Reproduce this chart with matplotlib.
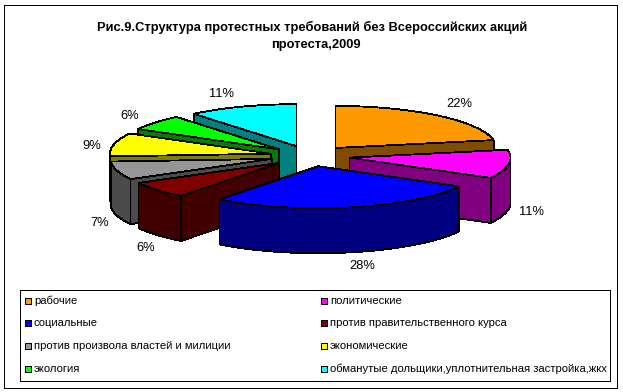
"""Exploded 3D pie: structure of protest demands, 2009."""

import matplotlib
matplotlib.use('Agg')
import matplotlib.pyplot as plt
import numpy as np
from matplotlib.patches import Polygon, Rectangle

plt.rcParams['font.family'] = ['Liberation Sans', 'DejaVu Sans']

title = 'Рис.9.Структура протестных требований без Всероссийских акций\nпротеста,2009'
categories = ['рабочие', 'политические', 'социальные', 'против правительственного курса',
              'против произвола властей и милиции', 'экономические', 'экология',
              'обманутые дольщики,уплотнительная застройка,жкх']
values = [22, 11, 27.5, 6.5, 7, 9, 6, 11]
value_labels = ['22%', '11%', '28%', '6%', '7%', '9%', '6%', '11%']

top_colors = ['#FF9900', '#FF00FF', '#0000FF', '#800000', '#969696', '#FFFF00', '#00FF00', '#00FFFF']
side_colors = ['#804D00', '#800080', '#000080', '#400000', '#4B4B4B', '#808000', '#008000', '#008080']

# pie geometry, in pixels of the 623x392 canvas
CX, CY = 310, 156
RX, RY = 161, 42
DEPTH = 45
EXPLODE = 40
LABEL_XY = [(459, 104), (531, 212), (362, 266), (146, 248), (100, 223), (92, 146), (130, 116), (222, 94)]
DRAW_ORDER = [0, 7, 6, 5, 4, 3, 1, 2]
LINE = dict(edgecolor='black', linewidth=0.6, antialiased=False)

W, H = 623, 392
fig = plt.figure(figsize=(W / 100, H / 100), dpi=100)
ax = fig.add_axes([0, 0, 1, 1])
ax.set_xlim(0, W)
ax.set_ylim(H, 0)
ax.axis('off')


def point(cx, cy, theta):
    """Clockwise angle from 12 o'clock to a point on the squashed circle."""
    return cx + RX * np.sin(theta), cy - RY * np.cos(theta)


def draw_slice(i, a1, a2):
    mid = (a1 + a2) / 2
    cx = CX + EXPLODE * np.sin(mid)
    cy = CY - EXPLODE * RY / RX * np.cos(mid)

    # radial walls, the one turned away from the viewer first
    walls = [(a1, -np.cos(a1 - np.pi / 2)), (a2, -np.cos(a2 + np.pi / 2))]
    walls.sort(key=lambda w: w[1])
    for a, _ in walls:
        px, py = point(cx, cy, a)
        ax.add_patch(Polygon([(cx, cy), (px, py), (px, py + DEPTH), (cx, cy + DEPTH)],
                             facecolor=side_colors[i], **LINE))

    # outer rim, only the front half of the ellipse shows
    lo, hi = max(a1, np.pi / 2), min(a2, 3 * np.pi / 2)
    if hi > lo:
        t = np.linspace(lo, hi, 60)
        xs, ys = point(cx, cy, t)
        rim = list(zip(xs, ys)) + list(zip(xs[::-1], ys[::-1] + DEPTH))
        ax.add_patch(Polygon(rim, facecolor=side_colors[i], **LINE))

    t = np.linspace(a1, a2, 60)
    xs, ys = point(cx, cy, t)
    ax.add_patch(Polygon([(cx, cy)] + list(zip(xs, ys)), facecolor=top_colors[i], **LINE))


angles = np.concatenate([[0], np.cumsum(values)]) / np.sum(values) * 2 * np.pi

# outer frame
ax.add_patch(Rectangle((4, 5), 612.5, 383, facecolor='white', **LINE))

ax.text(312, 27.5, title.split('\n')[0], ha='center', va='center', fontsize=9.3, fontweight='bold')
ax.text(316, 44.5, title.split('\n')[1], ha='center', va='center', fontsize=9.3, fontweight='bold')

for i in DRAW_ORDER:
    draw_slice(i, angles[i], angles[i + 1])

for lab, (x, y) in zip(value_labels, LABEL_XY):
    ax.text(x, y, lab, ha='center', va='center', fontsize=9.3)

# legend, two columns filled row by row
ax.add_patch(Rectangle((19.5, 290), 590, 91, facecolor='white', **LINE))
for i, name in enumerate(categories):
    col, row = i % 2, i // 2
    x = 25 if col == 0 else 321
    y = 300.7 + row * 22.7
    ax.add_patch(Rectangle((x, y - 3), 6, 6, facecolor=top_colors[i], **LINE))
    ax.text(x + 9, y, name, ha='left', va='center', fontsize=8.1)

fig.savefig('out.png', dpi=100)
